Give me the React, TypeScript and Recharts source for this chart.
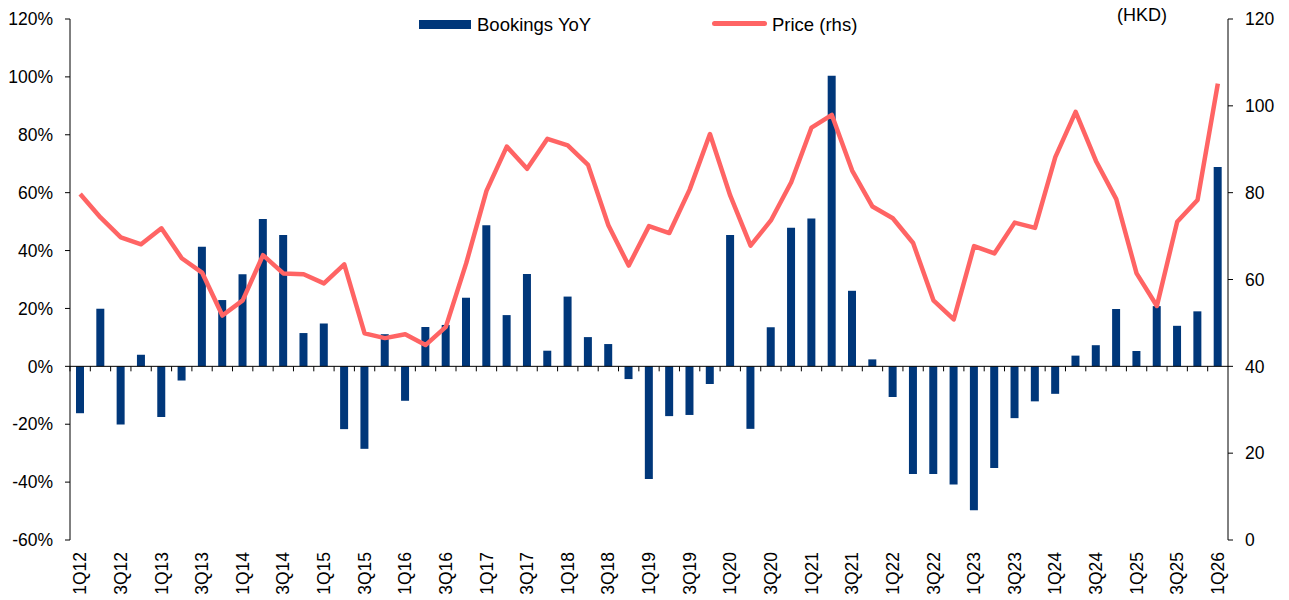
import React from 'react';
import { ComposedChart, Bar, Line, XAxis, YAxis, ReferenceLine } from 'recharts';

const quarters = [
  '1Q12', '2Q12', '3Q12', '4Q12', '1Q13', '2Q13', '3Q13', '4Q13',
  '1Q14', '2Q14', '3Q14', '4Q14', '1Q15', '2Q15', '3Q15', '4Q15',
  '1Q16', '2Q16', '3Q16', '4Q16', '1Q17', '2Q17', '3Q17', '4Q17',
  '1Q18', '2Q18', '3Q18', '4Q18', '1Q19', '2Q19', '3Q19', '4Q19',
  '1Q20', '2Q20', '3Q20', '4Q20', '1Q21', '2Q21', '3Q21', '4Q21',
  '1Q22', '2Q22', '3Q22', '4Q22', '1Q23', '2Q23', '3Q23', '4Q23',
  '1Q24', '2Q24', '3Q24', '4Q24', '1Q25', '2Q25', '3Q25', '4Q25',
  '1Q26',
];

const bookingsYoY = [
  -16.2, 19.9, -20.1, 4.0, -17.5, -4.9, 41.3, 22.9,
  31.8, 50.9, 45.4, 11.5, 14.8, -21.7, -28.5, 11.1,
  -11.9, 13.6, 14.3, 23.7, 48.7, 17.7, 31.9, 5.4,
  24.1, 10.1, 7.7, -4.4, -38.9, -17.2, -16.8, -6.1,
  45.4, -21.6, 13.5, 47.9, 51.1, 100.4, 26.1, 2.4,
  -10.6, -37.2, -37.2, -40.8, -49.7, -35.1, -17.9, -12.1,
  -9.5, 3.7, 7.3, 19.8, 5.3, 20.8, 14.0, 19.0,
  68.9,
];

const priceHKD = [
  79.7, 74.3, 69.7, 68.1, 71.8, 64.9, 61.6, 51.7,
  55.2, 65.6, 61.4, 61.2, 59.1, 63.5, 47.6, 46.5,
  47.4, 44.9, 49.1, 63.7, 80.4, 90.6, 85.5, 92.4,
  90.9, 86.4, 72.5, 63.2, 72.3, 70.7, 80.7, 93.5,
  79.3, 67.8, 73.6, 82.4, 95.0, 97.9, 85.1, 76.8,
  74.1, 68.4, 55.2, 50.8, 67.7, 66.0, 73.1, 71.9,
  88.2, 98.6, 87.3, 78.5, 61.4, 53.9, 73.3, 78.3,
  105.1,
];

const leftTicks = [-60, -40, -20, 0, 20, 40, 60, 80, 100, 120];
const rightTicks = [0, 20, 40, 60, 80, 100, 120];

const data = quarters.map((q, i) => ({ q, bookings: bookingsYoY[i], price: priceHKD[i] }));

const BLUE = '#00377A';
const PINK = '#FF6464';
const FONT = '"Liberation Sans", Arial, sans-serif';

const W = 1289;
const H = 600;
const TOP = 19;
const X_AXIS_H = 60;
const LEFT_W = 70;
const RIGHT_W = 61;
const PLOT_H = H - TOP - X_AXIS_H;
const ZERO_Y = TOP + PLOT_H * (120 / 180);
const BAND = (W - LEFT_W - RIGHT_W) / quarters.length;

const XTick = (props: any) => {
  const { x, y, payload, index } = props;
  const half = payload && typeof payload.offset === 'number' && payload.offset > 0 ? payload.offset : BAND / 2;
  const ly = y + 12;
  return (
    <g>
      <line x1={x - half} x2={x - half} y1={ZERO_Y} y2={ZERO_Y + 5} stroke="#000" strokeWidth={1} />
      {index % 2 === 0 && (
        <text
          x={x}
          y={ly}
          transform={`rotate(-90, ${x}, ${ly})`}
          textAnchor="end"
          dy="0.35em"
          fontSize={17.5}
          fill="#000"
          fontFamily={FONT}
        >
          {payload.value}
        </text>
      )}
    </g>
  );
};

export default function App() {
  return (
    <div style={{ position: 'absolute', left: 0, top: 0, width: W, height: H, background: '#fff', fontFamily: FONT }}>
      <ComposedChart
        width={W}
        height={H}
        data={data}
        margin={{ top: TOP, right: 0, bottom: 0, left: 0 }}
        style={{ fontFamily: FONT }}
      >
        <XAxis
          dataKey="q"
          xAxisId={0}
          interval={0}
          axisLine={false}
          tickLine={false}
          tickSize={0}
          tickMargin={0}
          height={X_AXIS_H}
          tick={<XTick />}
        />
        <YAxis
          yAxisId="left"
          domain={[-60, 120]}
          ticks={leftTicks}
          allowDataOverflow
          tickFormatter={(v: number) => `${v}%`}
          width={LEFT_W}
          axisLine={{ stroke: '#000', strokeWidth: 1 }}
          tickLine={{ stroke: '#000', strokeWidth: 1 }}
          tickSize={5}
          tickMargin={12}
          tick={{ fontSize: 17.5, fill: '#000', fontFamily: FONT }}
        />
        <YAxis
          yAxisId="right"
          orientation="right"
          domain={[0, 120]}
          ticks={rightTicks}
          allowDataOverflow
          width={RIGHT_W}
          axisLine={{ stroke: '#000', strokeWidth: 1 }}
          tickLine={{ stroke: '#000', strokeWidth: 1 }}
          tickSize={5}
          tickMargin={12}
          tick={{ fontSize: 17.5, fill: '#000', fontFamily: FONT, textAnchor: 'start' }}
        />
        <Bar dataKey="bookings" yAxisId="left" fill={BLUE} barSize={8} isAnimationActive={false} />
        <ReferenceLine y={0} yAxisId="left" stroke="#000" strokeWidth={1} />
        <Line
          dataKey="price"
          yAxisId="right"
          type="linear"
          stroke={PINK}
          strokeWidth={4.5}
          strokeLinejoin="round"
          dot={false}
          activeDot={false}
          isAnimationActive={false}
        />
      </ComposedChart>

      <div style={{ position: 'absolute', left: 419, top: 12, width: 460, height: 26, fontSize: 18.5, color: '#000' }}>
        <span style={{ position: 'absolute', left: 0, top: 8, width: 52, height: 9, background: BLUE }} />
        <span style={{ position: 'absolute', left: 58, top: 0, lineHeight: '26px', whiteSpace: 'nowrap' }}>Bookings YoY</span>
        <span style={{ position: 'absolute', left: 293, top: 8.5, width: 55, height: 5, background: PINK, borderRadius: 2.5 }} />
        <span style={{ position: 'absolute', left: 353, top: 0, lineHeight: '26px', whiteSpace: 'nowrap' }}>Price (rhs)</span>
      </div>
      <div style={{ position: 'absolute', left: 1117, top: 3, lineHeight: '24px', fontSize: 18, color: '#000', whiteSpace: 'nowrap' }}>
        (HKD)
      </div>
    </div>
  );
}
